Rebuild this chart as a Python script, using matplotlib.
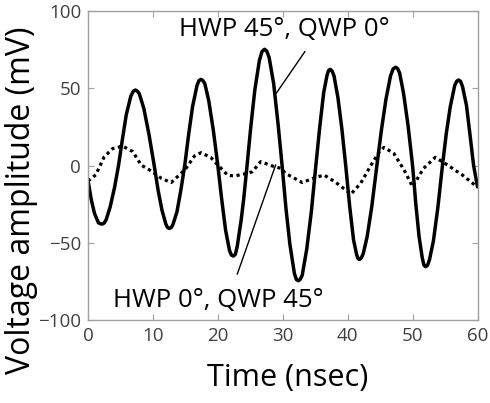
import matplotlib
matplotlib.use("Agg")
import matplotlib.pyplot as plt

# Solid trace: HWP 45°, QWP 0°
t_solid = [0.0, 0.5, 1.0, 1.6, 1.9, 2.2, 2.5, 2.8, 3.4, 4.1, 4.7,
           5.3, 5.9, 6.6, 7.0, 7.3, 7.6, 7.9, 8.6, 9.4, 10.2,
           10.8, 11.4, 12.0, 12.25, 12.55, 12.85, 13.1, 13.7, 14.3, 14.9,
           15.5, 16.1, 16.8, 17.1, 17.4, 17.7, 18.0, 18.6, 19.3, 20.0,
           20.6, 21.2, 21.8, 22.1, 22.4, 22.7, 23.0, 23.6, 24.0, 24.5,
           25.1, 25.7, 26.4, 26.8, 27.2, 27.55, 27.9, 28.6, 29.3, 29.9,
           30.5, 31.1, 31.8, 32.1, 32.4, 32.7, 33.0, 33.7, 34.4, 35.1,
           35.7, 36.3, 36.8, 37.05, 37.3, 37.6, 37.9, 38.5, 39.1, 39.7,
           40.3, 40.9, 41.4, 41.6, 41.8, 42.1, 42.4, 43.0, 43.7, 44.5,
           45.2, 45.9, 46.6, 47.0, 47.4, 47.7, 48.0, 48.6, 49.3, 50.0,
           50.5, 51.0, 51.5, 51.75, 52.0, 52.3, 52.6, 53.2, 53.9, 54.6,
           55.2, 55.8, 56.5, 56.8, 57.1, 57.4, 57.7, 58.3, 58.9, 59.4, 60.0]
v_solid = [-9.4, -22, -31, -37, -37.7, -37.9, -37.2, -35, -27, -14, 0,
           17, 33, 45, 48.2, 48.9, 48.2, 46.5, 37, 20, 0,
           -16, -29, -38, -40.1, -40.7, -40.0, -38, -30, -16, 0,
           20, 38, 52, 55.0, 55.8, 55.0, 53, 42, 23, 0,
           -22, -42, -55, -58.0, -58.6, -57.5, -52, -35, -21, 0,
           26, 49, 68, 73.8, 75.3, 74.0, 70, 53, 26, 0,
           -28, -51, -70, -73.8, -74.6, -73.6, -71, -54, -30, 0,
           25, 47, 58, 61.5, 62.3, 61.2, 58, 44, 24, 0,
           -26, -48, -58, -60.2, -60.8, -59.8, -57, -46, -27, 0,
           23, 43, 58, 62.6, 63.6, 62.8, 60, 47, 26, 0,
           -25, -46, -60, -64.5, -65.5, -64.6, -61, -49, -27, 0,
           21, 38, 52, 54.6, 55.4, 54.5, 51, 39, 18, 0, -13.7]

# Dotted trace: HWP 0°, QWP 45°
t_dot = [0.0, 1.2, 2.5, 3.8, 5.35, 6.9, 8.2, 9.5, 11.3, 12.8, 14.1, 15.1,
         16.4, 17.4, 18.9, 20.5, 21.5, 22.5, 24.6, 25.3, 26.6, 28.4, 29.7,
         30.4, 33.0, 35.1, 36.4, 38.2, 40.5, 42.0, 43.6, 44.9,
         45.6, 47.1, 48.7, 50.0, 51.7, 53.5, 55.4, 57.7, 60.0]
v_dot = [-10, -6, 5.7, 11, 12.6, 9, 0.3, -2.9, -8.3, -11, -6, -1.8,
         6.2, 8.3, 5.3, -1.8, -6.2, -6.8, -5, -4, 2.5, -0.3, -1.8,
         -5, -11, -7.6, -6.2, -11, -18.5, -11.5, 0.3, 9,
         11.8, 7.9, -2.9, -13.7, -1.8, 5.3, 0.3, -6.2, -14]

x_ticks = [0, 10, 20, 30, 40, 50, 60]
y_ticks = [-100, -50, 0, 50, 100]
label_solid = "HWP 45°, QWP 0°"
label_dot = "HWP 0°, QWP 45°"

plt.rcParams['font.family'] = ['Open Sans', 'DejaVu Sans']

fig = plt.figure(figsize=(4.9, 4.03), dpi=100)
ax = fig.add_axes([88/490, 1-320/403, (477.5-88)/490, (320-11.1)/403])

ax.plot(t_solid, v_solid, color='black', lw=2.5, solid_capstyle='round', solid_joinstyle='round')
ax.plot(t_dot, v_dot, color='black', lw=2.3, linestyle=(0, (1, 1.1)))

ax.set_xlim(0, 60)
ax.set_ylim(-100, 100)
ax.set_xticks(x_ticks)
ax.set_yticks(y_ticks)
ax.tick_params(direction='in', top=True, right=True, length=4, width=0.8,
               color='#a0a0a0', labelsize=13.5, labelcolor='#404040', pad=5)
for s in ax.spines.values():
    s.set_color('#a0a0a0')
    s.set_linewidth(1.0)

ax.text(30.3, 87.8, label_solid, ha='center', va='center', fontsize=18.5, color='black')
ax.text(20.0, -87.1, label_dot, ha='center', va='center', fontsize=18.5, color='black')
ax.plot([33.4, 29.0], [73.7, 46.8], color='black', lw=1.0)
ax.plot([23.0, 28.9], [-70.2, 0.3], color='black', lw=1.0)

fig.text(22/490, 1-200/403, "Voltage amplitude (mV)", rotation=90,
         ha='center', va='center', fontsize=23, color='black')
fig.text(288/490, 1-378/403, "Time (nsec)", ha='center', va='center',
         fontsize=22, color='black')

fig.savefig("out.png", dpi=100)
